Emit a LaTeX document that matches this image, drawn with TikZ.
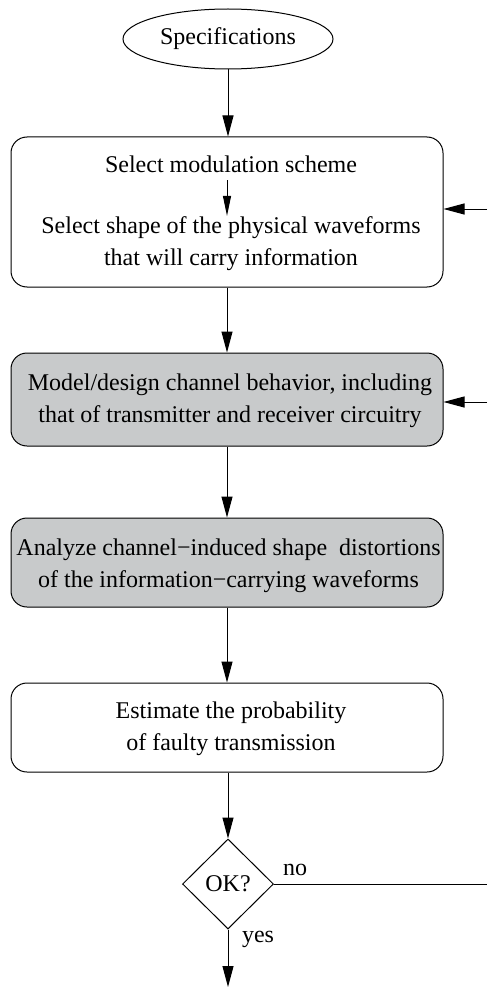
\documentclass[tikz,border=0pt]{standalone}
\usepackage{fontspec}
\setmainfont{Liberation Serif}
\usetikzlibrary{shapes.geometric,arrows.meta,calc}
\definecolor{boxgray}{HTML}{C8CACB}
\begin{document}
\begin{tikzpicture}[x=1pt,y=-1pt,
  box/.style={draw,rounded corners=16pt,line width=1pt,minimum width=432pt,inner sep=0pt},
  gbox/.style={box,fill=boxgray},
  txt/.style={font=\fontsize{24}{32}\selectfont,align=center,inner sep=0pt,anchor=base},
  arr/.style={line width=1pt,-{Triangle[length=21pt,width=11pt]}},
  sarr/.style={line width=1pt,-{Triangle[length=20pt,width=8pt]}},
  plain/.style={line width=1pt}]
\useasboundingbox (0,0) rectangle (487,987);

\node[draw,ellipse,line width=1pt,minimum width=210pt,minimum height=60pt,inner sep=0pt,
      font=\fontsize{24}{32}\selectfont] (spec) at (228,39) {Specifications};

\node[box,minimum height=150pt] (b1) at (227,212) {};
\node[txt] (m1) at (231,172) {Select modulation scheme};
\node[txt] (m2) at (231,265) {Select shape of the physical waveforms\\that will carry information};

\node[gbox,minimum height=93pt] (b2) at (227,399.5) {};
\node[txt] (t2) at (230,422) {Model/design channel behavior, including\\that of transmitter and receiver circuitry};

\node[gbox,minimum height=89pt] (b3) at (227,562.5) {};
\node[txt] (t3) at (228.5,587) {Analyze channel−induced shape\ \ distortions\\of the information−carrying waveforms};

\node[box,minimum height=89pt] (b4) at (227,727.5) {};
\node[txt] (t4) at (231,750) {Estimate the probability\\of faulty transmission};

\node[draw,diamond,line width=1pt,minimum width=91pt,minimum height=90pt,inner sep=0pt,
      font=\fontsize{24}{32}\selectfont] (ok) at (228,884) {OK?};

\coordinate (in1) at (487,209);
\coordinate (in2) at (487,402);
\coordinate (noend) at (487,884);
\coordinate (yesend) at (228,987);

\draw[arr] (spec.south) -- (spec.south |- b1.north);
\draw[sarr,shorten <=8pt] (m1.south -| b1.center) -- (m2.north -| b1.center);
\draw[arr] (b1.south) -- (b2.north);
\draw[arr] (b2.south) -- (b3.north);
\draw[arr] (b3.south) -- (b4.north);
\draw[arr] (b4.south -| ok.north) -- (ok.north);
\draw[arr] (ok.south) -- (yesend);
\draw[plain] (ok.east) -- (noend);
\draw[arr] (in1) -- (in1 -| b1.east);
\draw[arr] (in2) -- (in2 -| b2.east);

\node[txt] (no) at (295,875) {no};
\node[txt] (yes) at (258,942) {yes};
\end{tikzpicture}
\end{document}
